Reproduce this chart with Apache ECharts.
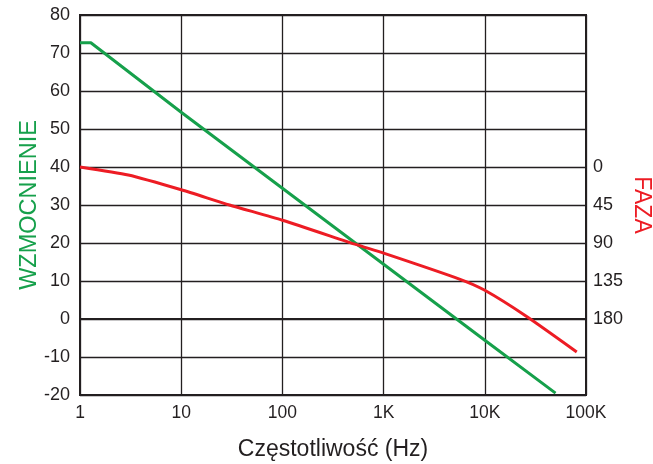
<!DOCTYPE html>
<html><head><meta charset="utf-8">
<script src="https://cdn.jsdelivr.net/npm/echarts@6/dist/echarts.min.js"></script>
<style>html,body{margin:0;padding:0;background:#fff}#c{width:653px;height:464px}</style>
</head><body><div id="c"></div>
<script>
// frequency (Hz), gain (dB)
const gainFreq = [1, 1.28, 10, 100, 1000, 10000, 50000];
const gainVals = [72.7, 72.7, 54.4, 34.4, 14.4, -5.6, -19.5];
// frequency (Hz), phase (deg)
const phaseFreq = [1, 3, 10, 30, 100, 540, 1000, 5700, 10000, 25900, 81000];
const phaseVals = [0, 9.5, 27, 45, 63, 92, 102, 133, 146, 177, 219];
const xTickLabels = {1:'1',10:'10',100:'100',1000:'1K',10000:'10K',100000:'100K'};
const phaseTickLabels = [0, 45, 90, 135, 180];

const chart = echarts.init(document.getElementById('c'));
const font = 'Liberation Sans, Arial, sans-serif';
chart.setOption({
  animation: false,
  grid: {left: 80, right: 67, top: 15, bottom: 69, show: true, borderColor: '#231f20', borderWidth: 2,
         containLabel: false, outerBoundsMode: 'none'},
  xAxis: {
    type: 'log', logBase: 10, min: 1, max: 100000,
    name: 'Częstotliwość (Hz)', nameLocation: 'middle', nameGap: 43, nameMoveOverlap: false,
    nameTextStyle: {fontFamily: font, fontSize: 23, color: '#231f20'},
    axisLine: {lineStyle: {color: '#231f20', width: 2}},
    axisTick: {show: false},
    axisLabel: {fontFamily: font, fontSize: 17.5, color: '#231f20', margin: 9,
      formatter: v => xTickLabels[Math.round(v)] || ''},
    splitLine: {show: true, lineStyle: {color: '#231f20', width: 1.3}},
    minorSplitLine: {show: false}
  },
  yAxis: [{
    type: 'value', min: -20, max: 80, interval: 10, position: 'left',
    name: 'WZMOCNIENIE', nameLocation: 'middle', nameGap: 38, nameRotate: 90, nameMoveOverlap: false,
    nameTextStyle: {fontFamily: font, fontSize: 23.5, color: '#16a04b'},
    axisLine: {show: true, lineStyle: {color: '#231f20', width: 2}},
    axisTick: {show: false},
    axisLabel: {fontFamily: font, fontSize: 18, color: '#231f20', margin: 10},
    splitLine: {show: true, lineStyle: {color: '#231f20', width: 1.3}}
  }, {
    type: 'value', min: -180, max: 270, interval: 45, inverse: true, position: 'right',
    name: 'FAZA', nameLocation: 'middle', nameGap: 44, nameRotate: -90, nameMoveOverlap: false,
    nameTextStyle: {fontFamily: font, fontSize: 23, color: '#ed1c24'},
    axisLine: {show: true, lineStyle: {color: '#231f20', width: 2}},
    axisTick: {show: false},
    axisLabel: {fontFamily: font, fontSize: 18, color: '#231f20', margin: 7,
      formatter: v => phaseTickLabels.includes(v) ? String(v) : ''},
    splitLine: {show: false}
  }],
  series: [{
    type: 'line', yAxisIndex: 0, symbol: 'none',
    data: gainFreq.map((f, i) => [f, gainVals[i]]),
    lineStyle: {color: '#16a04b', width: 3}
  }, {
    type: 'line', yAxisIndex: 1, symbol: 'none', smooth: 0.2,
    data: phaseFreq.map((f, i) => [f, phaseVals[i]]),
    lineStyle: {color: '#ed1c24', width: 3}
  }]
});
</script></body></html>
